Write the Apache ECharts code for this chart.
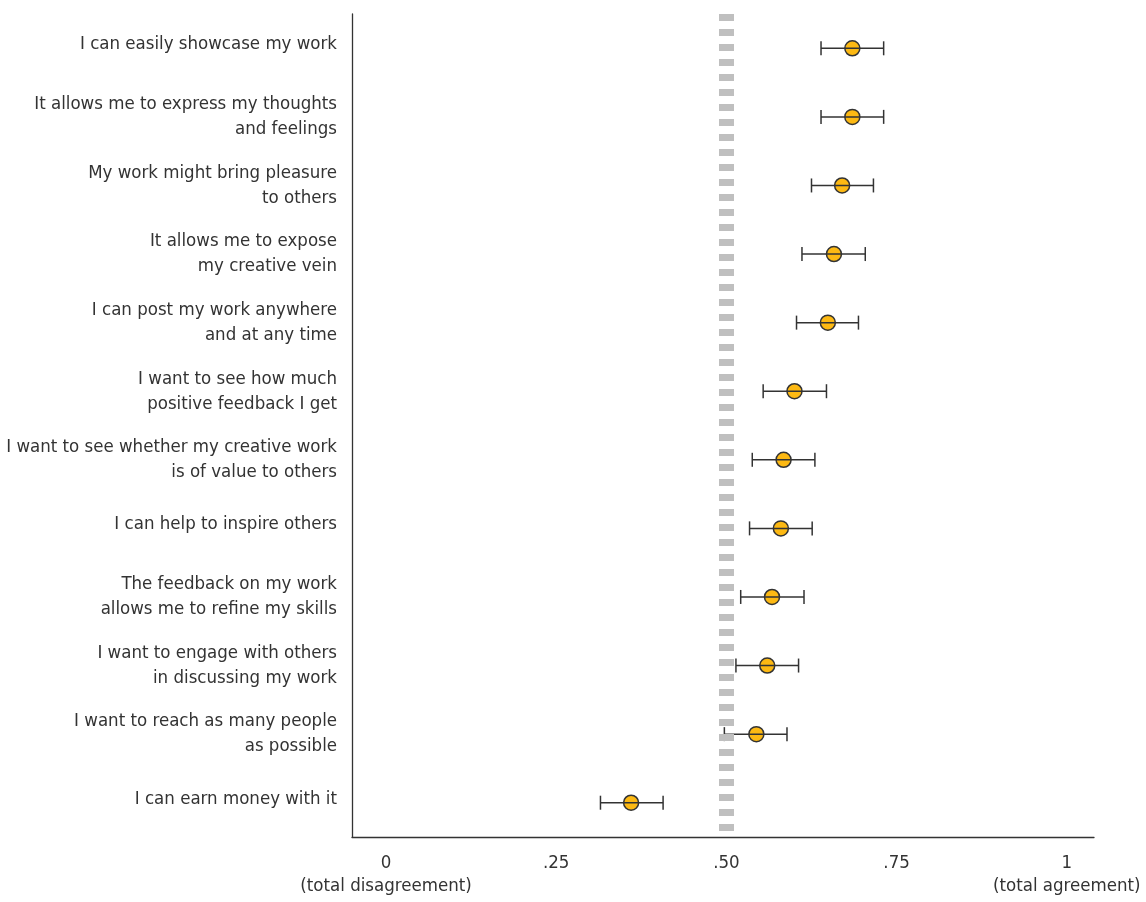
<!DOCTYPE html>
<html>
<head>
<meta charset="utf-8">
<script src="https://cdn.jsdelivr.net/npm/echarts@6/dist/echarts.min.js"></script>
<style>
  html, body { margin: 0; padding: 0; background: #ffffff; }
  #chart { width: 1146px; height: 902px; }
</style>
</head>
<body>
<div id="chart"></div>
<script>
// ---- data ----
const categories = [
  "I can easily showcase my work",
  "It allows me to express my thoughts\nand feelings",
  "My work might bring pleasure\nto others",
  "It allows me to expose\nmy creative vein",
  "I can post my work anywhere\nand at any time",
  "I want to see how much\npositive feedback I get",
  "I want to see whether my creative work\nis of value to others",
  "I can help to inspire others",
  "The feedback on my work\nallows me to refine my skills",
  "I want to engage with others\nin discussing my work",
  "I want to reach as many people\nas possible",
  "I can earn money with it"
];
const means = [0.685, 0.685, 0.670, 0.658, 0.649, 0.600, 0.584, 0.580, 0.567, 0.560, 0.544, 0.360];
const lows  = [0.639, 0.639, 0.625, 0.611, 0.603, 0.554, 0.538, 0.534, 0.521, 0.514, 0.497, 0.315];
const highs = [0.731, 0.731, 0.716, 0.704, 0.694, 0.647, 0.630, 0.626, 0.614, 0.606, 0.589, 0.407];
const tickValues = [0, 0.25, 0.5, 0.75, 1];
const tickLabels = ["0", ".25", ".50", ".75", "1"];
const tickSubLabels = ["(total disagreement)", "", "", "", "(total agreement)"];
const neutralValue = 0.5;

// ---- chart ----
const FONT = "'Liberation Sans Narrow', 'DejaVu Sans Condensed', 'Roboto', sans-serif";
const TEXT = '#333333';
const FS = 18.5;

const chart = echarts.init(document.getElementById('chart'), null, { renderer: 'canvas' });

const scatterData = means.map((m, i) => [m, i]);
const errData = lows.map((l, i) => [l, highs[i], i]);

const option = {
  backgroundColor: '#ffffff',
  animation: false,
  grid: { left: 352, right: 52, top: 14, bottom: 65, containLabel: false, outerBoundsMode: 'none' },
  xAxis: {
    type: 'value',
    min: -0.05,
    max: 1.04,
    splitLine: { show: false },
    axisTick: { show: false },
    axisLine: { show: true, onZero: false, lineStyle: { color: '#333', width: 1.3 } },
    axisLabel: {
      customValues: tickValues,
      margin: 15,
      color: TEXT,
      fontFamily: FONT,
      fontSize: FS,
      lineHeight: 23,
      formatter: function (v) {
        let idx = -1;
        tickValues.forEach((t, i) => { if (Math.abs(t - v) < 1e-9) idx = i; });
        if (idx < 0) return '';
        return tickSubLabels[idx] ? tickLabels[idx] + '\n' + tickSubLabels[idx] : tickLabels[idx];
      }
    }
  },
  yAxis: {
    type: 'category',
    inverse: true,
    data: categories,
    axisTick: { show: false },
    splitLine: { show: false },
    axisLine: { show: true, onZero: false, lineStyle: { color: '#333', width: 1.3 } },
    axisLabel: {
      margin: 15,
      color: TEXT,
      fontFamily: FONT,
      fontSize: FS,
      lineHeight: 25,
      align: 'right',
      interval: 0,
      formatter: function (v) {
        return v.indexOf('\n') >= 0 ? v : '{s|' + v + '}';
      },
      rich: {
        s: { fontFamily: FONT, fontSize: FS, color: TEXT, lineHeight: 25, padding: [0, 0, 8, 0] }
      }
    }
  },
  series: [
    {
      type: 'scatter',
      data: [],
      z: 1,
      silent: true,
      markLine: {
        silent: true,
        symbol: ['none', 'none'],
        label: { show: false },
        lineStyle: { color: '#bfbfbf', width: 15, type: [7, 8], opacity: 1 },
        data: [{ xAxis: neutralValue }]
      }
    },
    {
      type: 'scatter',
      data: scatterData,
      z: 2,
      symbol: 'circle',
      symbolSize: 15,
      itemStyle: { color: '#FDB913', borderColor: '#333', borderWidth: 1.5, opacity: 1 }
    },
    {
      type: 'custom',
      z: 3,
      data: errData,
      encode: { x: [0, 1], y: 2 },
      renderItem: function (params, api) {
        const lo = api.coord([api.value(0), api.value(2)]);
        const hi = api.coord([api.value(1), api.value(2)]);
        const cap = 7;
        const style = { stroke: '#333', lineWidth: 1.5, fill: null };
        return {
          type: 'group',
          children: [
            { type: 'line', shape: { x1: lo[0], y1: lo[1], x2: hi[0], y2: hi[1] }, style: style },
            { type: 'line', shape: { x1: lo[0], y1: lo[1] - cap, x2: lo[0], y2: lo[1] + cap }, style: style },
            { type: 'line', shape: { x1: hi[0], y1: hi[1] - cap, x2: hi[0], y2: hi[1] + cap }, style: style }
          ]
        };
      }
    }
  ]
};

chart.setOption(option);
</script>
</body>
</html>
